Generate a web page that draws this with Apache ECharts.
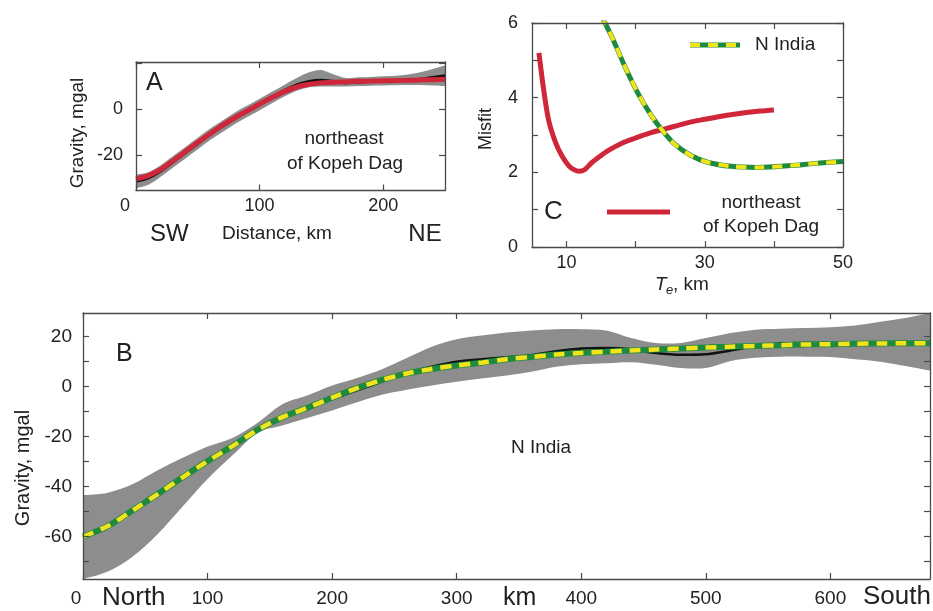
<!DOCTYPE html>
<html>
<head>
<meta charset="utf-8">
<script src="https://cdn.jsdelivr.net/npm/echarts@6/dist/echarts.min.js"></script>
<style>
html,body{margin:0;padding:0;background:#fff;}
#chart{width:933px;height:611px;}
</style>
</head>
<body>
<div id="chart"></div>
<script>
// ---------- Panel A: northeast of Kopeh Dag gravity profile ----------
const A_km    = [0,10,20,30,40,50,60,70,80,90,100,110,120,130,140,150,160,170,180,190,200,210,220,230,240,250];
const A_model = [-30.5,-29,-26.3,-22.5,-18.5,-14.5,-10.8,-7,-3.8,-0.8,2.2,5,7.6,9.6,10.8,11.4,11.7,11.9,12.1,12.2,12.3,12.4,12.5,12.7,12.8,13];
const A_obs   = [-31.5,-30,-27,-23,-19,-15,-11,-7.5,-4,-1,2,5,8,10.5,12,12.5,12,11.5,11.7,12,12.2,12.3,12.5,13,13.8,14.5];
const A_upper = [-28.5,-27.5,-24.5,-20.5,-16.5,-12.5,-8.5,-5,-1.5,1.5,4.5,7.5,10.5,13.5,16,17,15,13.5,13.8,14,14.3,14.5,15,16,17.5,19];
const A_lower = [-34.5,-33,-29.5,-25.5,-21.5,-17.5,-13.5,-10,-6.5,-3.5,-0.5,2.5,5.5,8,9.5,9.8,9.8,9.8,10,10.2,10.3,10.4,10.5,10.5,10.3,10];
const A_xLabels = [0,100,200];
const A_yLabels = [-20,0];
const A_yTicks  = [-20,0,20];

// ---------- Panel B: N India gravity profile ----------
const B_km    = [0,20,40,60,80,100,120,140,160,180,200,220,240,260,280,300,320,340,360,380,400,420,440,460,480,500,520,540,560,580,600,620,640,660,680];
const B_model = [-60,-55.8,-49.5,-43,-36.3,-29.8,-23.8,-17.3,-12.2,-8.5,-4.4,-0.6,2.7,5.3,7.1,8.5,9.6,11,11.9,12.9,13.5,14,14.5,14.9,15.3,15.7,16,16.3,16.6,16.9,17,17.2,17.3,17.4,17.4];
const B_obs   = [-60.5,-56,-49.5,-43,-36.3,-29.8,-23.8,-17.3,-12.5,-9,-5,-1.5,2,5.5,8,10,11,11.8,12.6,14.2,15.3,15.5,15,13.5,12.8,13,14.5,16.3,17.3,17.5,17.3,17.2,17.3,17.4,17.4];
const B_upper = [-43.5,-42.5,-39,-33.5,-28.5,-24,-20.5,-14.5,-7,-3.5,0.5,3.5,7,11.5,16,19,20.5,21.7,22.5,23,23,22.5,19.5,17.5,17.5,19.5,21.5,22.8,23.2,23.5,23.8,24.5,26,27.5,29.5];
const B_lower = [-77,-74,-68,-59,-48,-37,-27.5,-18.5,-15.5,-12.5,-9.5,-6.2,-3.2,-1.2,0.5,2,3.3,4.5,6,8,9,9.4,9.8,8.8,7.5,7.5,10.3,11.6,12,12,11.9,11,10,8.3,6.5];
const B_xLabels = [0,100,200,300,400,500,600];
const B_yLabels = [-60,-40,-20,0,20];
const B_yTicks  = [-70,-60,-50,-40,-30,-20,-10,0,10,20];

// ---------- Panel C: misfit vs elastic thickness ----------
const C_kd_te     = [6,6.7,7.4,8.4,9.3,10.3,11,11.8,12.6,13.6,15,16,18,20,22,24,26,28,30,32,34,36,38,40];
const C_kd_misfit = [5.2,4.2,3.4,2.8,2.45,2.18,2.08,2.03,2.07,2.25,2.45,2.58,2.78,2.92,3.05,3.15,3.25,3.35,3.42,3.49,3.55,3.6,3.64,3.67];
const C_in_te     = [15,16.5,18.4,20.3,22.3,23.7,25.6,28,30.4,33.8,37.6,42.4,46,50];
const C_in_misfit = [6.2,5.65,4.85,4.13,3.51,3.16,2.76,2.45,2.27,2.16,2.13,2.18,2.24,2.29];
const C_xLabels = [10,30,50];
const C_xTicks  = [10,20,30,40,50];
const C_yLabels = [0,2,4,6];
const C_yTicks  = [0,1,2,3,4,5,6];

// ---------- styling ----------
const FONT = 'Liberation Sans, Arial, Helvetica, sans-serif';
const TXT = '#222';
const AXC = '#4a4a4a';
const RED = '#d0263a';
const GREEN = '#1d8a3e';
const YELLOW = '#f3e31c';
const GRAY = '#8d8d8d';

const zip = (xs, ys) => xs.map((x, i) => [x, ys[i]]);

// Catmull-Rom smoothed path segment through screen points (first point assumed already reached)
function smoothSeg(pts) {
  let d = '';
  const n = pts.length;
  for (let i = 0; i < n - 1; i++) {
    const p0 = pts[Math.max(0, i - 1)], p1 = pts[i], p2 = pts[i + 1], p3 = pts[Math.min(n - 1, i + 2)];
    const c1x = p1[0] + (p2[0] - p0[0]) / 6, c1y = p1[1] + (p2[1] - p0[1]) / 6;
    const c2x = p2[0] - (p3[0] - p1[0]) / 6, c2y = p2[1] - (p3[1] - p1[1]) / 6;
    d += ' C' + c1x.toFixed(2) + ' ' + c1y.toFixed(2) + ' ' + c2x.toFixed(2) + ' ' + c2y.toFixed(2) + ' ' + p2[0].toFixed(2) + ' ' + p2[1].toFixed(2);
  }
  return d;
}

function band(xi, yi, xs, lo, hi) {
  return {
    type: 'custom', xAxisIndex: xi, yAxisIndex: yi, clip: true, z: 1, silent: true,
    data: xs.map((x, i) => [x, lo[i], hi[i]]),
    encode: { x: 0, y: [1, 2] },
    renderItem: function (params, api) {
      if (params.dataIndexInside !== 0) return null;
      const n = params.dataInsideLength;
      const top = [], bot = [];
      for (let i = 0; i < n; i++) {
        top.push(api.coord([api.value(0, i), api.value(2, i)]));
        bot.push(api.coord([api.value(0, i), api.value(1, i)]));
      }
      bot.reverse();
      let d = 'M' + top[0][0] + ' ' + top[0][1] + smoothSeg(top);
      d += ' L' + bot[0][0] + ' ' + bot[0][1] + smoothSeg(bot) + ' Z';
      return { type: 'path', shape: { pathData: d }, style: { fill: GRAY } };
    }
  };
}
function line(xi, yi, data, color, width, z, dash) {
  return {
    type: 'line', xAxisIndex: xi, yAxisIndex: yi, data: data, symbol: 'none', smooth: 0.3,
    z: z, silent: true, animation: false,
    lineStyle: { color: color, width: width, type: dash || 'solid', cap: 'butt' }
  };
}

const TICK = { show: true, inside: true, length: 6, lineStyle: { color: AXC, width: 1.2 } };
const LINE = { show: true, onZero: false, lineStyle: { color: AXC, width: 1.3 } };

function xAxis(grid, pos, min, max, labels, ticks, zeroPad, fs, margin) {
  return {
    type: 'value', gridIndex: grid, position: pos, min: min, max: max, z: 10,
    axisLine: LINE, splitLine: { show: false },
    axisTick: Object.assign({ customValues: ticks }, TICK),
    axisLabel: pos === 'bottom' ? {
      show: true, customValues: labels, color: TXT, fontSize: fs, fontFamily: FONT, margin: margin,
      formatter: v => (v === 0 && zeroPad ? '{z|0}' : String(v)),
      rich: { z: { fontSize: fs, fontFamily: FONT, color: TXT, padding: [0, zeroPad || 0, 0, 0] } }
    } : { show: false }
  };
}
function yAxis(grid, pos, min, max, labels, ticks, fs, margin) {
  return {
    type: 'value', gridIndex: grid, position: pos, min: min, max: max, z: 10,
    axisLine: LINE, splitLine: { show: false },
    axisTick: Object.assign({ customValues: ticks }, TICK),
    axisLabel: pos === 'left' ? { show: true, customValues: labels, color: TXT, fontSize: fs, fontFamily: FONT, margin: margin }
                              : { show: false }
  };
}
function txt(x, y, s, fs, opts) {
  return Object.assign({
    type: 'text', x: x, y: y, z: 100, silent: true,
    style: Object.assign({ text: s, fontSize: fs, fontFamily: FONT, fill: TXT, align: 'center', verticalAlign: 'middle' }, (opts && opts.style) || {})
  }, opts && opts.rotation ? { rotation: opts.rotation } : {});
}

const option = {
  backgroundColor: '#fff',
  animation: false,
  grid: [
    { left: 136, top: 62, width: 309, height: 128.5, show: false },
    { left: 532, top: 23, width: 311, height: 224, show: false },
    { left: 83, top: 313, width: 847, height: 266, show: false }
  ],
  xAxis: [
    xAxis(0, 'bottom', 0, 250, A_xLabels, A_xLabels, 22, 18, 7),
    xAxis(0, 'top', 0, 250, A_xLabels, A_xLabels),
    xAxis(1, 'bottom', 5, 50, C_xLabels, C_xTicks, 0, 18, 7),
    xAxis(1, 'top', 5, 50, C_xLabels, C_xTicks),
    xAxis(2, 'bottom', 0, 680, B_xLabels, B_xLabels, 14, 19, 10),
    xAxis(2, 'top', 0, 680, B_xLabels, B_xLabels)
  ],
  yAxis: [
    yAxis(0, 'left', -35.5, 20.5, A_yLabels, A_yTicks, 18, 13),
    yAxis(0, 'right', -35.5, 20.5, A_yLabels, A_yTicks),
    yAxis(1, 'left', 0, 6, C_yLabels, C_yTicks, 18, 14),
    yAxis(1, 'right', 0, 6, C_yLabels, C_yTicks),
    yAxis(2, 'left', -77, 29.5, B_yLabels, B_yTicks, 19, 11),
    yAxis(2, 'right', -77, 29.5, B_yLabels, B_yTicks)
  ],
  series: [
    // Panel A
    band(0, 0, A_km, A_lower, A_upper),
    line(0, 0, zip(A_km, A_obs), '#111', 3, 3),
    line(0, 0, zip(A_km, A_model), RED, 5, 4),
    // Panel C
    line(2, 2, zip(C_kd_te, C_kd_misfit), RED, 5, 4),
    line(2, 2, zip(C_in_te, C_in_misfit), GREEN, 5, 4),
    line(2, 2, zip(C_in_te, C_in_misfit), YELLOW, 4, 5, [10, 8]),
    // Panel B
    band(4, 4, B_km, B_lower, B_upper),
    line(4, 4, zip(B_km, B_obs), '#111', 2.5, 3),
    line(4, 4, zip(B_km, B_model), GREEN, 6, 4),
    line(4, 4, zip(B_km, B_model), YELLOW, 4.5, 5, [11, 8])
  ],
  graphic: [
    // Panel A texts
    txt(146, 83, 'A', 25, { style: { align: 'left' } }),
    txt(344, 139, 'northeast', 19),
    txt(345, 164, 'of Kopeh Dag', 19),
    txt(150, 234, 'SW', 24, { style: { align: 'left' } }),
    txt(277, 234, 'Distance, km', 19),
    txt(425, 234, 'NE', 24),
    txt(78, 133, 'Gravity, mgal', 19, { rotation: Math.PI / 2 }),
    // Panel C texts
    txt(486, 129, 'Misfit', 18, { rotation: Math.PI / 2 }),
    txt(544, 212, 'C', 26, { style: { align: 'left' } }),
    txt(755, 45, 'N India', 19, { style: { align: 'left' } }),
    txt(761, 203, 'northeast', 19),
    txt(761, 227, 'of Kopeh Dag', 19),
    txt(655, 285, 'T', 19, { style: { align: 'left', fontStyle: 'italic' } }),
    txt(666, 290, 'e', 13, { style: { align: 'left', fontStyle: 'italic' } }),
    txt(673, 285, ', km', 19, { style: { align: 'left' } }),
    { type: 'line', z: 100, shape: { x1: 690, y1: 45, x2: 740, y2: 45 }, style: { stroke: GREEN, lineWidth: 5 } },
    { type: 'line', z: 101, shape: { x1: 690, y1: 45, x2: 740, y2: 45 }, style: { stroke: YELLOW, lineWidth: 4, lineDash: [10, 8] } },
    { type: 'line', z: 100, shape: { x1: 607, y1: 212, x2: 670, y2: 212 }, style: { stroke: RED, lineWidth: 5 } },
    // Panel B texts
    txt(116, 354, 'B', 25, { style: { align: 'left' } }),
    txt(541, 448, 'N India', 19),
    txt(23, 468, 'Gravity, mgal', 20, { rotation: Math.PI / 2 }),
    txt(102, 598, 'North', 26, { style: { align: 'left' } }),
    txt(503, 598, 'km', 25, { style: { align: 'left' } }),
    txt(863, 597, 'South', 26, { style: { align: 'left' } })
  ]
};

const chart = echarts.init(document.getElementById('chart'), null, { renderer: 'canvas' });
chart.setOption(option);
</script>
</body>
</html>
